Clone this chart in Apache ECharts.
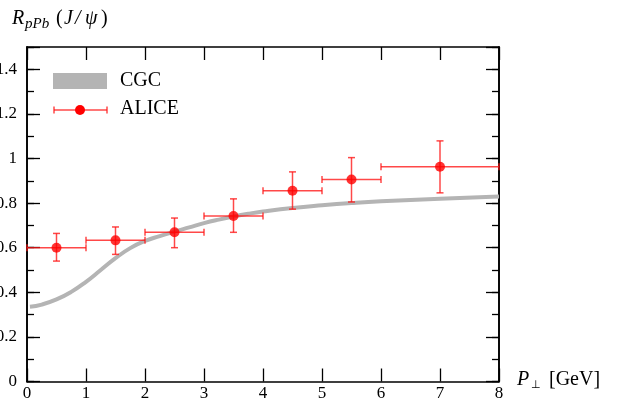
<!DOCTYPE html>
<html><head><meta charset="utf-8">
<script src="https://cdn.jsdelivr.net/npm/echarts@6/dist/echarts.min.js"></script>
<style>html,body{margin:0;padding:0;background:#fff}#c{width:619px;height:407px}</style>
</head><body><div id="c"></div>
<script>
// ALICE data (bin centres, bin edges, value, error limits)
const aliceX     = [0.5, 1.5, 2.5, 3.5, 4.5, 5.5, 7];
const aliceXLow  = [0, 1, 2, 3, 4, 5, 6];
const aliceXHigh = [1, 2, 3, 4, 5, 6, 8];
const aliceY     = [0.60, 0.633, 0.669, 0.742, 0.855, 0.906, 0.963];
const aliceYLow  = [0.54, 0.57, 0.60, 0.669, 0.773, 0.805, 0.846];
const aliceYHigh = [0.664, 0.693, 0.733, 0.819, 0.94, 1.004, 1.079];
// CGC curve
const cgcX = [0.05, 0.25, 0.5, 0.75, 1.0, 1.25, 1.5, 1.75, 2.0, 2.25, 2.5, 2.75, 3.0, 3.25, 3.5, 3.75, 4.0, 4.5, 5, 5.5, 6, 7, 8];
const cgcY = [0.335, 0.345, 0.368, 0.402, 0.447, 0.5, 0.553, 0.598, 0.63, 0.652, 0.672, 0.691, 0.71, 0.726, 0.74, 0.752, 0.762, 0.778, 0.79, 0.8, 0.808, 0.82, 0.83];
// axis ticks
const xTicks = {min: 0, max: 8, interval: 1};
const yTicks = {min: 0, max: 1.5, major: 0.2, minor: 0.1};

const serif = 'Liberation Serif';
const errColor = 'rgba(255,20,20,0.78)';

const chart = echarts.init(document.getElementById('c'), null, {renderer: 'canvas'});

const errData = aliceX.map((x, i) => [x, aliceY[i], aliceXLow[i], aliceXHigh[i], aliceYLow[i], aliceYHigh[i]]);
const dotData = aliceX.map((x, i) => [x, aliceY[i]]);
const cgcData = cgcX.map((x, i) => [x, cgcY[i]]);

function xAxisDef(pos, labels) {
  return {
    type: 'value', position: pos, min: xTicks.min, max: xTicks.max, interval: xTicks.interval,
    axisLine: {show: true, onZero: false, lineStyle: {color: '#000', width: 1.6}},
    axisTick: {show: true, inside: true, length: 13, lineStyle: {color: '#000', width: 1.3}},
    axisLabel: {show: labels, margin: 4, fontFamily: serif, fontSize: 17, color: '#000'},
    splitLine: {show: false}
  };
}
function yAxisDef(pos, interval, tickLen, labels) {
  return {
    type: 'value', position: pos, min: yTicks.min, max: yTicks.max, interval: interval,
    axisLine: {show: true, onZero: false, lineStyle: {color: '#000', width: 1.6}},
    axisTick: {show: true, inside: true, length: tickLen, lineStyle: {color: '#000', width: 1.3}},
    axisLabel: {show: labels, margin: 10, fontFamily: serif, fontSize: 17, color: '#000',
      formatter: v => (v > 1.45 ? '' : String(v))},
    splitLine: {show: false}
  };
}

const T = (left, top, text, font) => ({type: 'text', left, top, style: {text, font, fill: '#000'}});

const option = {
  backgroundColor: '#fff',
  animation: false,
  textStyle: {fontFamily: serif},
  grid: {left: 27, right: 120, top: 47, bottom: 25.5, containLabel: false, outerBoundsMode: 'none'},
  xAxis: [xAxisDef('bottom', true), xAxisDef('top', false)],
  yAxis: [
    yAxisDef('left', yTicks.major, 13, true),
    yAxisDef('left', yTicks.minor, 7, false),
    yAxisDef('right', yTicks.major, 13, false),
    yAxisDef('right', yTicks.minor, 7, false)
  ],
  series: [
    {
      name: 'CGC', type: 'line', data: cgcData, smooth: 0.5, showSymbol: false,
      lineStyle: {color: '#b4b4b4', width: 4}, z: 2
    },
    {
      name: 'ALICE err', type: 'custom', data: errData, z: 3,
      renderItem: function (params, api) {
        const x = api.value(0), y = api.value(1);
        const pL = api.coord([api.value(2), y]);
        const pR = api.coord([api.value(3), y]);
        const pB = api.coord([x, api.value(4)]);
        const pT = api.coord([x, api.value(5)]);
        const c = 3.5;
        const st = {stroke: errColor, lineWidth: 1.5, fill: null};
        const ln = (x1, y1, x2, y2) => ({type: 'line', shape: {x1, y1, x2, y2}, style: st});
        return {type: 'group', children: [
          ln(pL[0], pL[1], pR[0], pR[1]),
          ln(pL[0], pL[1] - c, pL[0], pL[1] + c),
          ln(pR[0], pR[1] - c, pR[0], pR[1] + c),
          ln(pB[0], pB[1], pT[0], pT[1]),
          ln(pB[0] - c, pB[1], pB[0] + c, pB[1]),
          ln(pT[0] - c, pT[1], pT[0] + c, pT[1])
        ]};
      }
    },
    {
      name: 'ALICE', type: 'scatter', data: dotData, symbol: 'circle', symbolSize: 10,
      itemStyle: {color: '#ff0000'}, z: 4
    }
  ],
  graphic: [
    // title R_pPb (J/psi)
    T(12, 9, 'R', 'italic 20px "Liberation Serif"'),
    T(25, 17, 'pPb', 'italic 15px "Liberation Serif"'),
    T(56, 9, '(', '20px "Liberation Serif"'),
    T(64, 9, 'J', 'italic 20px "Liberation Serif"'),
    T(75, 9, '/', 'italic 20px "Liberation Serif"'),
    T(85, 9, '\u03C8', 'italic 20px "Liberation Serif"'),
    T(101, 9, ')', '20px "Liberation Serif"'),
    // x axis name
    T(517, 370, 'P', 'italic 20px "Liberation Serif"'),
    T(531, 380, '\u22A5', '11px "DejaVu Sans"'),
    T(549, 370, '[GeV]', '20px "Liberation Serif"'),
    // legend
    {type: 'rect', shape: {x: 53, y: 73, width: 54, height: 16}, style: {fill: '#b4b4b4'}},
    T(120, 71, 'CGC', '20px "Liberation Serif"'),
    {type: 'line', shape: {x1: 54, y1: 110, x2: 107, y2: 110}, style: {stroke: errColor, lineWidth: 1.5}},
    {type: 'line', shape: {x1: 54, y1: 106.5, x2: 54, y2: 113.5}, style: {stroke: errColor, lineWidth: 1.5}},
    {type: 'line', shape: {x1: 107, y1: 106.5, x2: 107, y2: 113.5}, style: {stroke: errColor, lineWidth: 1.5}},
    {type: 'circle', shape: {cx: 80, cy: 110, r: 5}, style: {fill: '#ff0000'}},
    T(120, 99, 'ALICE', '20px "Liberation Serif"')
  ]
};
chart.setOption(option);
</script>
</body></html>
